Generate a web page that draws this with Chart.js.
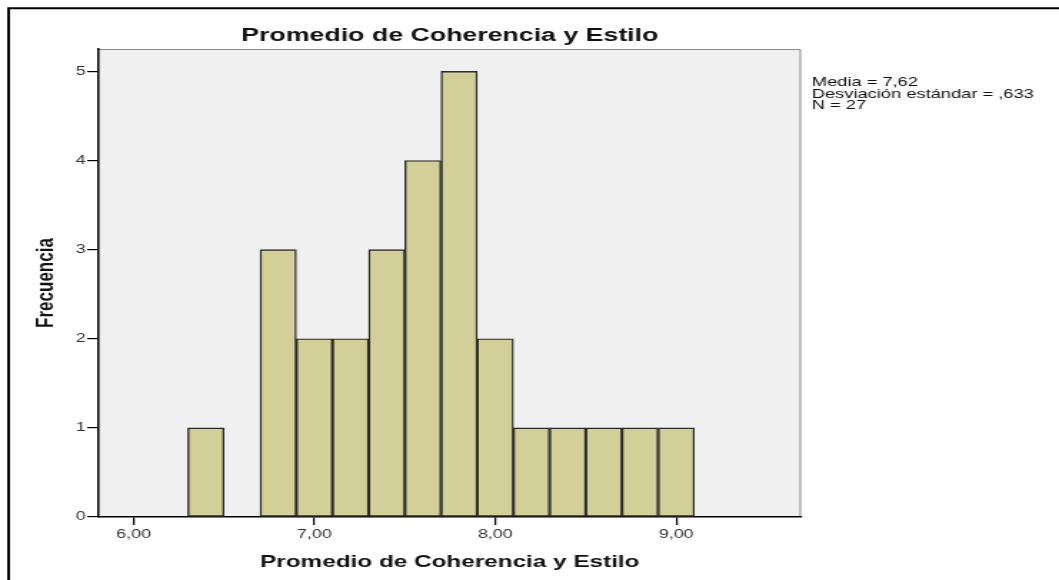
<!DOCTYPE html>
<html lang="es">
<head>
<meta charset="UTF-8">
<title>Promedio de Coherencia y Estilo</title>
<script src="https://cdn.jsdelivr.net/npm/chart.js"></script>
<style>
  html, body { margin: 0; padding: 0; background: #fff; overflow: hidden; }
  #histo { display: block; }
</style>
</head>
<body>
<!-- the source picture is an SPSS export stretched sideways, so the canvas is drawn narrow and widened by CSS -->
<canvas id="histo" width="741" height="580" style="width:1059px;height:580px"></canvas>
<script>
// histogram bins (width 0,2) and their counts
const binStarts = [6.3, 6.5, 6.7, 6.9, 7.1, 7.3, 7.5, 7.7, 7.9, 8.1, 8.3, 8.5, 8.7, 8.9];
const counts    = [1,   0,   3,   2,   2,   3,   4,   5,   2,   1,   1,   1,   1,   1];
const binWidth = 0.2;
const xTicks = [6, 7, 8, 9];
const yTicks = [0, 1, 2, 3, 4, 5];
const statsLines = ['Media = 7,62', 'Desviación estándar = ,633', 'N = 27'];

const FONT = '"Liberation Sans", Arial, sans-serif';
Chart.defaults.font.family = FONT;

// grey plot background, frame lines and the stats block on the right
const spssPlot = {
    id: 'spssPlot',
    beforeDraw(chart) {
        const {ctx, chartArea: a} = chart;
        ctx.save();
        ctx.fillStyle = '#f0f0f0';
        ctx.fillRect(a.left, a.top, a.right - a.left, a.bottom - a.top);
        ctx.strokeStyle = '#8a8a8a';
        ctx.lineWidth = 1;
        ctx.beginPath();
        ctx.moveTo(a.left, a.top + 0.5);
        ctx.lineTo(a.right - 0.5, a.top + 0.5);
        ctx.lineTo(a.right - 0.5, a.bottom);
        ctx.stroke();
        ctx.strokeStyle = '#000';
        ctx.lineWidth = 2;
        ctx.beginPath();
        ctx.moveTo(6, chart.height);
        ctx.lineTo(6, 8.3);
        ctx.lineTo(chart.width, 8.3);
        ctx.stroke();
        ctx.restore();
    },
    afterDraw(chart) {
        const {ctx, chartArea: a} = chart;
        ctx.save();
        ctx.font = '12.8px ' + FONT;
        ctx.fillStyle = '#111';
        ctx.textBaseline = 'alphabetic';
        statsLines.forEach((t, i) => ctx.fillText(t, a.right + 7.5, 86 + i * 11.6));
        ctx.restore();
    }
};

const points = binStarts
    .map((s, i) => ({x: s + binWidth / 2, y: counts[i]}))
    .filter(p => p.y > 0);

new Chart(document.getElementById('histo'), {
    type: 'bar',
    data: {
        datasets: [{
            data: points,
            backgroundColor: '#d3cf98',
            borderColor: '#2a2a2a',
            borderWidth: 1.4,
            borderSkipped: false,
            barPercentage: 1,
            categoryPercentage: 1
        }]
    },
    options: {
        responsive: false,
        animation: false,
        layout: { padding: { left: 0, right: 180.5, top: 0, bottom: 0 } },
        plugins: {
            legend: { display: false },
            tooltip: { enabled: false },
            title: {
                display: true,
                text: 'Promedio de Coherencia y Estilo',
                fullSize: false,
                color: '#111',
                font: { size: 18.7, weight: 'bold' },
                padding: { top: 24.3, bottom: 2.3 }
            }
        },
        scales: {
            x: {
                type: 'linear',
                min: 5.807,
                max: 9.69,
                offset: false,
                grid: { offset: false, drawOnChartArea: false, drawTicks: true, tickLength: 8, color: '#000', lineWidth: 1.2 },
                border: { display: true, color: '#000', width: 1.5 },
                ticks: {
                    padding: 2.5,
                    color: '#333',
                    autoSkip: false,
                    maxRotation: 0,
                    font: { size: 12.5 },
                    callback: v => v.toFixed(2).replace('.', ',')
                },
                afterBuildTicks: s => { s.ticks = xTicks.map(v => ({value: v})); },
                afterFit: s => { s.height = 63; },
                title: {
                    display: true,
                    text: 'Promedio de Coherencia y Estilo',
                    color: '#111',
                    font: { size: 17, weight: 'bold' },
                    padding: { top: 0, bottom: 7 }
                }
            },
            y: {
                min: 0,
                max: 5.25,
                grid: { drawOnChartArea: false, drawTicks: true, tickLength: 8, color: '#000', lineWidth: 1.2 },
                border: { display: true, color: '#000', width: 1.5 },
                ticks: {
                    padding: 1,
                    color: '#333',
                    autoSkip: false,
                    font: { size: 12.5 }
                },
                afterBuildTicks: s => { s.ticks = yTicks.map(v => ({value: v})); },
                afterFit: s => { s.width = 69; },
                title: {
                    display: true,
                    text: 'Frecuencia',
                    color: '#111',
                    font: { size: 17, weight: 'bold' },
                    padding: { top: 22, bottom: 0 }
                }
            }
        }
    },
    plugins: [spssPlot]
});
</script>
</body>
</html>
